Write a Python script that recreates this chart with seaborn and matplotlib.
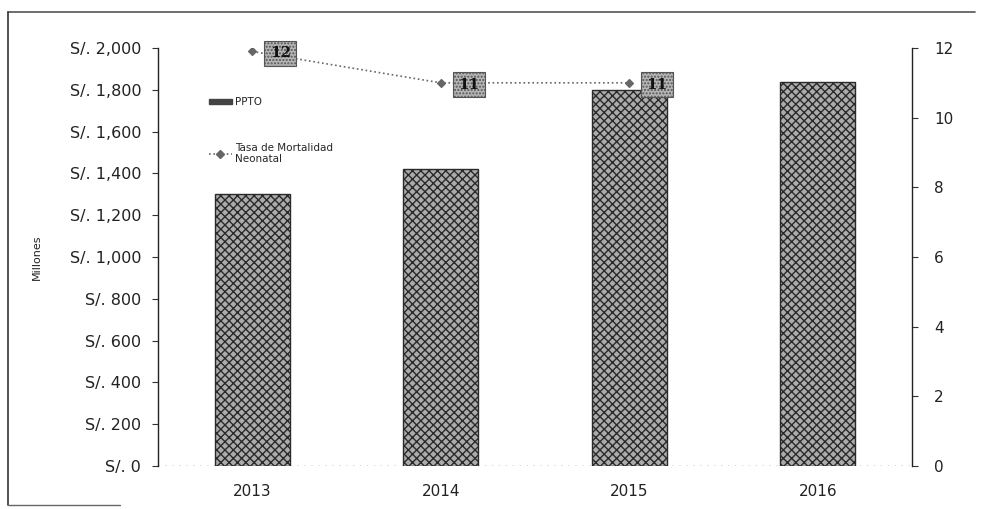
import numpy as np
import pandas as pd
import matplotlib
matplotlib.use("Agg")
import matplotlib.pyplot as plt
from matplotlib.lines import Line2D
from matplotlib.patches import Patch
import seaborn as sns

years = ["2013", "2014", "2015", "2016"]
ppto = [1301, 1421, 1799, 1837]
tasa_years = ["2013", "2014", "2015"]
tasa = [11.9, 11.0, 11.0]
tasa_labels = ["12", "11", "11"]
left_ticks = [0, 200, 400, 600, 800, 1000, 1200, 1400, 1600, 1800, 2000]
right_ticks = [0, 2, 4, 6, 8, 10, 12]

sns.set_theme(style="white")
plt.rcParams["font.family"] = ["DejaVu Sans"]
plt.rcParams["hatch.color"] = "#555555"

fig = plt.figure(figsize=(9.85, 5.09), dpi=100)
ax = fig.add_axes([158/985, 1-466/509, (912-158)/985, (466-48)/509])

bar_df = pd.DataFrame({"year": years, "ppto": ppto})
sns.barplot(data=bar_df, x="year", y="ppto", order=years, ax=ax, width=0.4,
            color="#ababab", edgecolor="#2a2a2a", linewidth=1.0, hatch="xxxx",
            saturation=1)

ax.set_ylim(0, 2000)
ax.set_xlim(-0.5, 3.5)
ax.set_yticks(left_ticks)
ax.set_yticklabels([f"S/. {v:,}" for v in left_ticks], fontsize=11.5, color="#222")
ax.set_ylabel("Millones", fontsize=8, color="#222", labelpad=20)
ax.set_xlabel("")

ax2 = ax.twinx()
line_df = pd.DataFrame({"year": tasa_years, "tasa": tasa})
sns.pointplot(data=line_df, x="year", y="tasa", order=years, ax=ax2,
              color="#666666", markers="D", linestyles=":",
              markersize=4, linewidth=1.2)
ax2.set_ylim(0, 12)
ax2.set_xlim(-0.5, 3.5)
ax2.set_yticks(right_ticks)
ax2.set_yticklabels([str(v) for v in right_ticks], fontsize=11, color="#222")
ax2.set_ylabel("")
ax2.set_xlabel("")

for i, (v, lab) in enumerate(zip(tasa, tasa_labels)):
    ax2.annotate(lab, xy=(i, v), xytext=(28, -2), textcoords="offset pixels",
                 ha="center", va="center", fontsize=11, fontweight="bold",
                 family="DejaVu Serif", color="#111",
                 bbox=dict(boxstyle="square,pad=0.35", facecolor="#b5b5b5",
                           edgecolor="#555", linewidth=0.8, hatch="....."))

ax.set_xticks(range(len(years)))
ax.set_xticklabels(years, fontsize=11, color="#222")
ax.tick_params(axis="x", length=0, pad=13)
ax.tick_params(axis="y", length=4, width=0.8, color="#333", direction="out", left=True, pad=8)
ax2.tick_params(axis="y", length=4, width=0.8, color="#333", direction="out", right=True, pad=12)

for a in (ax, ax2):
    a.spines["top"].set_visible(False)
    a.spines["bottom"].set_visible(False)
    a.grid(False)
ax.spines["left"].set_color("#222")
ax.spines["left"].set_linewidth(1.0)
ax.spines["right"].set_visible(False)
ax2.spines["left"].set_visible(False)
ax2.spines["right"].set_color("#222")
ax2.spines["right"].set_linewidth(1.0)
ax.axhline(0, color="#444", lw=1.0, ls=(0, (1, 4)), zorder=0.5)

handles = [Patch(facecolor="#444", edgecolor="#444"),
           Line2D([], [], color="#666666", ls=":", lw=1.2, marker="D", markersize=4)]
ax.legend(handles, ["PPTO", "Tasa de Mortalidad\nNeonatal"], loc="upper left",
          bbox_to_anchor=(0.055, 0.905), frameon=False, fontsize=7.5,
          handlelength=2.2, handleheight=0.3, labelspacing=3.4, handletextpad=0.3)

fig.add_artist(Line2D([8/985, 975/985], [1-12/509, 1-12/509], color="#555", lw=1.2))
fig.add_artist(Line2D([8/985, 8/985], [1-12/509, 1-505/509], color="#333", lw=1.2))
fig.add_artist(Line2D([8/985, 120/985], [1-505/509, 1-505/509], color="#666", lw=1.0))

fig.savefig("out.png", dpi=100)
